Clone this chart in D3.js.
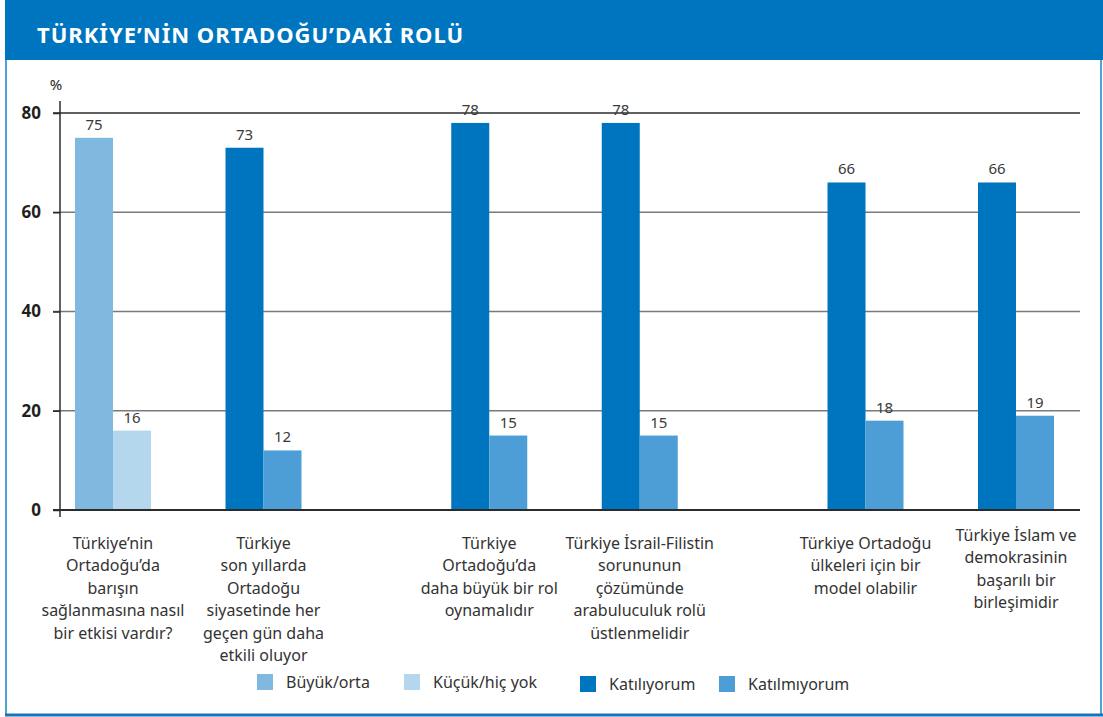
<!DOCTYPE html>
<html>
<head>
<meta charset="utf-8">
<script src="https://cdn.jsdelivr.net/npm/d3@7"></script>
<style>
  body { margin: 0; background: #fff; }
  svg { display: block; font-family: "Noto Sans", sans-serif; }
</style>
</head>
<body>
<div id="chart"></div>
<script>
// data
const categories = [
  ["Türkiye’nin", "Ortadoğu’da", "barışın", "sağlanmasına nasıl", "bir etkisi vardır?"],
  ["Türkiye", "son yıllarda", "Ortadoğu", "siyasetinde her", "geçen gün daha", "etkili oluyor"],
  ["Türkiye", "Ortadoğu’da", "daha büyük bir rol", "oynamalıdır"],
  ["Türkiye İsrail-Filistin", "sorununun", "çözümünde", "arabuluculuk rolü", "üstlenmelidir"],
  ["Türkiye Ortadoğu", "ülkeleri için bir", "model olabilir"],
  ["Türkiye İslam ve", "demokrasinin", "başarılı bir", "birleşimidir"]
];
const firstValues  = [75, 73, 78, 78, 66, 66];
const secondValues = [16, 12, 15, 15, 18, 19];
// which series pair each category uses (0 = Büyük/orta vs Küçük/hiç yok, 1 = Katılıyorum vs Katılmıyorum)
const seriesPair = [0, 1, 1, 1, 1, 1];
const seriesNames = ["Büyük/orta", "Küçük/hiç yok", "Katılıyorum", "Katılmıyorum"];
const yTicks = [0, 20, 40, 60, 80];

const colors = ["#80b9df", "#b4d7ed", "#0075bf", "#4d9ed6"];

const W = 1103, H = 717;
const svg = d3.select("#chart").append("svg").attr("width", W).attr("height", H);

// frame
svg.append("rect").attr("x", 6).attr("y", 0).attr("width", W - 8).attr("height", H - 2)
  .attr("fill", "none").attr("stroke", "#4fa2da").attr("stroke-width", 2);
svg.append("line").attr("x1", 5).attr("x2", W).attr("y1", H - 2).attr("y2", H - 2)
  .attr("stroke", "#1a73b8").attr("stroke-width", 3);
svg.append("rect").attr("x", 5).attr("y", 0).attr("width", W - 5).attr("height", 60).attr("fill", "#0075bf");
svg.append("text").attr("x", 37).attr("y", 43)
  .attr("fill", "#fff").attr("font-size", 22).attr("font-weight", 700).attr("letter-spacing", 1)
  .text("TÜRKİYE’NİN ORTADOĞU’DAKİ ROLÜ");

// x positions: point scale with spacer slots between groups
const slotDomain = [];
categories.forEach((c, i) => {
  if (i > 0) {
    slotDomain.push("gap" + i);
    if (i === 2 || i === 4) slotDomain.push("gapb" + i);
  }
  slotDomain.push("cat" + i);
});
const x = d3.scalePoint().domain(slotDomain).range([113, 1016]);
const barW = 38;

const y = d3.scaleLinear().domain([0, 80]).range([510, 113]);

// grid
const g = svg.append("g");
g.selectAll("line.grid").data(yTicks).join("line")
  .attr("class", "grid")
  .attr("x1", 53).attr("x2", 1080)
  .attr("y1", d => y(d)).attr("y2", d => y(d))
  .attr("stroke", d => (d === 0 || d === 80) ? "#2b2b2b" : "#7a7a7a")
  .attr("stroke-width", d => d === 0 ? 2 : 1.5);

// y axis
const yAxis = svg.append("g").attr("transform", "translate(60,0)")
  .call(d3.axisLeft(y).tickValues(yTicks).tickSize(7).tickPadding(12));
yAxis.select(".domain").remove();
yAxis.selectAll(".tick line").attr("stroke", "#2b2b2b").attr("stroke-width", 1.5);
yAxis.selectAll(".tick text").attr("font-size", 17).attr("font-weight", 700)
  .attr("fill", "#231f20").attr("font-family", "Noto Sans, sans-serif");
svg.append("line").attr("x1", 60).attr("x2", 60).attr("y1", 101).attr("y2", 517)
  .attr("stroke", "#2b2b2b").attr("stroke-width", 1.5);
svg.append("text").attr("x", 56).attr("y", 90).attr("text-anchor", "middle")
  .attr("font-size", 15).attr("fill", "#231f20").text("%");

// bars
const bars = categories.map((c, i) => [
  { i, v: firstValues[i], s: seriesPair[i] * 2, side: -1 },
  { i, v: secondValues[i], s: seriesPair[i] * 2 + 1, side: 0 }
]).flat();

svg.append("g").selectAll("rect").data(bars).join("rect")
  .attr("x", d => x("cat" + d.i) + d.side * barW)
  .attr("y", d => y(d.v))
  .attr("width", barW)
  .attr("height", d => y(0) - y(d.v))
  .attr("fill", d => colors[d.s]);

// redraw baseline above bars
svg.append("line").attr("x1", 53).attr("x2", 1080).attr("y1", y(0)).attr("y2", y(0))
  .attr("stroke", "#2b2b2b").attr("stroke-width", 2);

svg.append("g").selectAll("text").data(bars).join("text")
  .attr("x", d => x("cat" + d.i) + d.side * barW + barW / 2)
  .attr("y", d => y(d.v) - 8)
  .attr("text-anchor", "middle")
  .attr("font-size", 15).attr("fill", "#3a3a3a")
  .text(d => d.v);

// category labels
const labels = svg.append("g").selectAll("text").data(categories).join("text")
  .attr("x", (d, i) => x("cat" + i))
  .attr("y", (d, i) => i === 5 ? 541 : 549)
  .attr("text-anchor", "middle")
  .attr("font-size", 16).attr("fill", "#333");
labels.selectAll("tspan").data(d => d).join("tspan")
  .attr("x", function () { return d3.select(this.parentNode).attr("x"); })
  .attr("dy", (d, j) => j === 0 ? 0 : 22.4)
  .text(d => d);

// legend
const legendX = [257, 404, 580, 719];
const legend = svg.append("g").selectAll("g").data(seriesNames).join("g")
  .attr("transform", (d, i) => `translate(${legendX[i]},${i < 2 ? 674 : 676})`);
legend.append("rect").attr("width", 16).attr("height", 16).attr("fill", (d, i) => colors[i]);
legend.append("text").attr("x", 29).attr("y", 14)
  .attr("font-size", 16).attr("fill", "#333").text(d => d);
</script>
</body>
</html>
